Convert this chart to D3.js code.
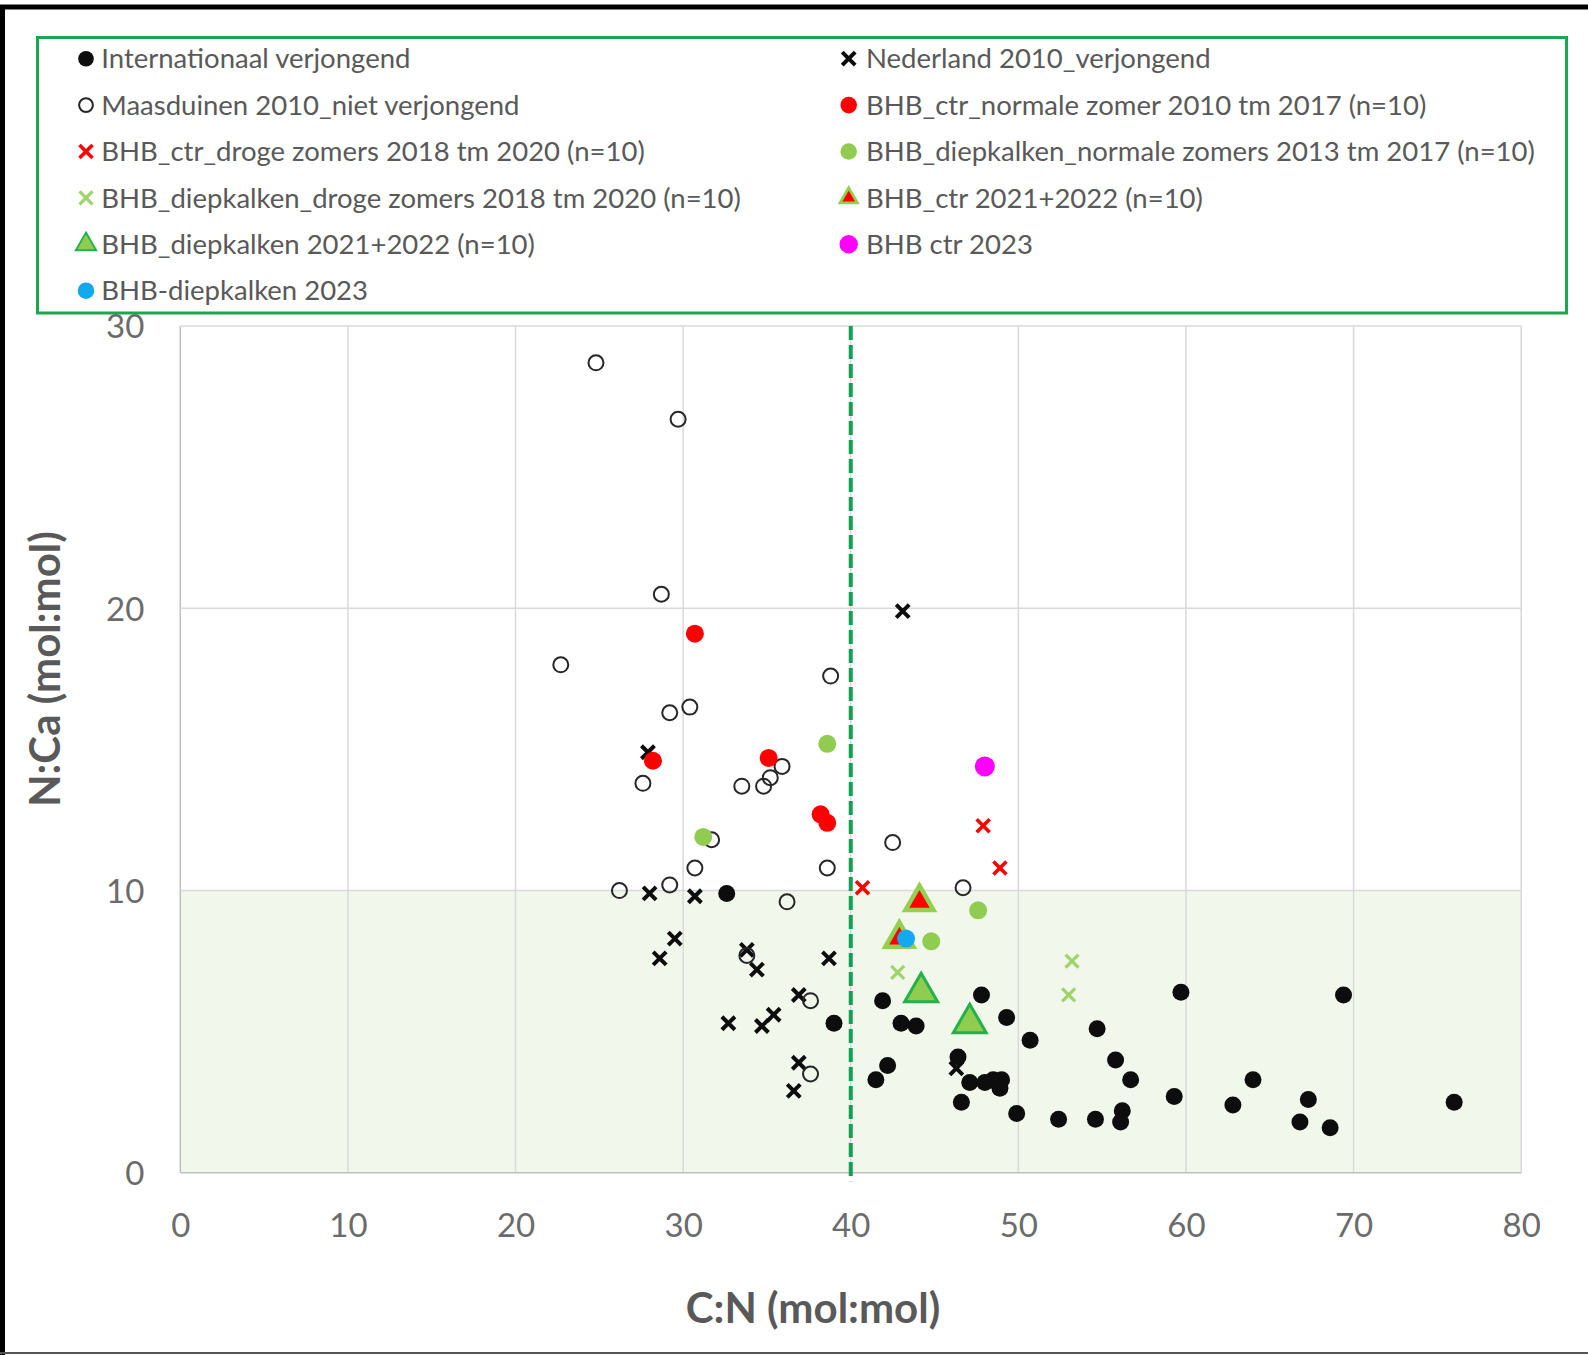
<!DOCTYPE html>
<html>
<head>
<meta charset="utf-8">
<script src="https://cdn.jsdelivr.net/npm/d3@7"></script>
<style>
html, body { margin: 0; padding: 0; background: #fff; }
svg { display: block; font-family: Lato, "Open Sans", sans-serif; }
</style>
</head>
<body>
<div id="chart"></div>
<script>
(function() {

// ---- data (C:N, N:Ca) ----
var internationaal = [[32.6,9.9],[39.0,5.3],[41.9,6.1],[47.8,6.3],[49.3,5.5],[43.0,5.3],[43.9,5.2],
    [50.7,4.7],[54.7,5.1],[55.8,4.0],[56.7,3.3],[59.7,6.4],[69.4,6.3],[59.3,2.7],[64.0,3.3],
    [62.8,2.4],[67.3,2.6],[66.8,1.8],[68.6,1.6],[49.9,2.1],[52.4,1.9],[54.6,1.9],[56.2,2.2],
    [56.1,1.8],[41.5,3.3],[42.2,3.8],[46.4,4.1],[46.6,2.5],[47.1,3.2],[48.0,3.2],[48.5,3.3],
    [49.0,3.3],[48.9,3.0],[76.0,2.5]];
var nederland = [[27.9,14.9],[43.1,19.9],[28.0,9.9],[30.7,9.8],[29.5,8.3],[28.6,7.6],[33.8,7.9],
    [34.4,7.2],[38.7,7.6],[36.9,6.3],[32.7,5.3],[34.7,5.2],[35.4,5.6],[36.9,3.9],[36.6,2.9],[46.3,3.7]];
var maasduinen = [[24.8,28.7],[29.7,26.7],[28.7,20.5],[22.7,18.0],[38.8,17.6],[29.2,16.3],[30.4,16.5],
    [27.6,13.8],[35.9,14.4],[35.2,14.0],[34.8,13.7],[33.5,13.7],[31.7,11.8],[42.5,11.7],[30.7,10.8],
    [38.6,10.8],[46.7,10.1],[26.2,10.0],[29.2,10.2],[36.2,9.6],[33.8,7.7],[37.6,6.1],[37.6,3.5]];
var ctrNormaal = [[30.7,19.1],[28.2,14.6],[35.1,14.7],[38.2,12.7],[38.6,12.4]];
var ctrDroog = [[47.9,12.3],[48.9,10.8],[40.7,10.1]];
var diepNormaal = [[38.6,15.2],[31.2,11.9],[47.6,9.3],[44.8,8.2]];
var diepDroog = [[42.8,7.1],[53.2,7.5],[53.0,6.3]];
var ctr2122 = [[44.1,9.6],[42.9,8.3]];
var diep2122 = [[44.2,6.4],[47.1,5.3]];
var ctr2023 = [[48.0,14.4]];
var diep2023 = [[43.3,8.3]];

var legendNames = [
    "Internationaal verjongend",
    "Nederland 2010_verjongend",
    "Maasduinen 2010_niet verjongend",
    "BHB_ctr_normale zomer 2010 tm 2017 (n=10)",
    "BHB_ctr_droge zomers 2018 tm 2020 (n=10)",
    "BHB_diepkalken_normale zomers 2013 tm 2017 (n=10)",
    "BHB_diepkalken_droge zomers 2018 tm 2020 (n=10)",
    "BHB_ctr 2021+2022 (n=10)",
    "BHB_diepkalken 2021+2022 (n=10)",
    "BHB ctr 2023",
    "BHB-diepkalken 2023"
];

var xTicks = [0, 10, 20, 30, 40, 50, 60, 70, 80];
var yTicks = [0, 10, 20, 30];
var shadeTop = 10;      // N:Ca limit, shaded band below it
var cnLimit = 40;       // C:N limit, dashed line

var xTitle = "C:N (mol:mol)",
    yTitle = "N:Ca (mol:mol)";

// marker styles per series, legend order
var series = [
    {data: internationaal, shape: "circle", r: 8.5, fill: "#0d0d0d"},
    {data: nederland,      shape: "cross",  s: 6.5, stroke: "#0d0d0d", sw: 4},
    {data: maasduinen,     shape: "circle", r: 7.5, fill: "none", stroke: "#262626", sw: 2},
    {data: ctrNormaal,     shape: "circle", r: 9,   fill: "#ff0000"},
    {data: ctrDroog,       shape: "cross",  s: 6.5, stroke: "#ff0000", sw: 3.6},
    {data: diepNormaal,    shape: "circle", r: 9,   fill: "#8fcc4f"},
    {data: diepDroog,      shape: "cross",  s: 6.5, stroke: "#9fd468", sw: 3.2},
    {data: ctr2122,        shape: "tri",    size: 340, fill: "#ff0000", stroke: "#92d050", sw: 4.5},
    {data: diep2122,       shape: "tri",    size: 470, fill: "#8fcc4f", stroke: "#22b24c", sw: 3},
    {data: ctr2023,        shape: "circle", r: 10,  fill: "#ff00ff"},
    {data: diep2023,       shape: "circle", r: 9,   fill: "#12a9ee"}
];
var drawOrder = [1, 2, 0, 3, 4, 5, 6, 7, 8, 9, 10];

/**
 * Set up SVG and scales.
 */
var W = 1588, H = 1355;
var svg = d3.select("#chart").append("svg")
            .attr("width", W)
            .attr("height", H);

svg.append("rect").attr("width", W).attr("height", H).attr("fill", "#fff");

var xScale = d3.scaleLinear().domain([0, 80]).range([180.3, 1521.2]);
var yScale = d3.scaleLinear().domain([0, 30]).range([1172.8, 326.1]);

// shaded band below N:Ca = 10
svg.append("rect")
   .attr("x", xScale(0))
   .attr("y", yScale(shadeTop))
   .attr("width", xScale(80) - xScale(0))
   .attr("height", yScale(0) - yScale(shadeTop))
   .attr("fill", "#f2f7ec");

// gridlines
var grid = svg.append("g").attr("class", "grid");
grid.selectAll("line.v").data(xTicks).enter().append("line")
    .attr("class", "v")
    .attr("x1", function(d) { return xScale(d); })
    .attr("x2", function(d) { return xScale(d); })
    .attr("y1", yScale(0)).attr("y2", yScale(30))
    .attr("stroke", function(d) { return d === 0 ? "#bfbfbf" : "#d9d9d9"; })
    .attr("stroke-width", 1.5);
grid.selectAll("line.h").data(yTicks).enter().append("line")
    .attr("class", "h")
    .attr("x1", xScale(0)).attr("x2", xScale(80))
    .attr("y1", function(d) { return yScale(d); })
    .attr("y2", function(d) { return yScale(d); })
    .attr("stroke", function(d) { return d === 0 ? "#bfbfbf" : "#d9d9d9"; })
    .attr("stroke-width", 1.5);

// tick labels
var xAxis = d3.axisBottom(xScale).tickValues(xTicks).tickSize(0).tickPadding(0);
var gx = svg.append("g").attr("transform", "translate(0," + yScale(0) + ")").call(xAxis);
gx.select(".domain").remove();
gx.selectAll("text")
  .attr("y", 52).attr("dy", "0.36em")
  .attr("font-size", 33).attr("fill", "#6b6b6b")
  .attr("font-family", "Lato, 'Open Sans', sans-serif");

var yAxis = d3.axisLeft(yScale).tickValues(yTicks).tickSize(0).tickPadding(0);
var gy = svg.append("g").attr("transform", "translate(" + xScale(0) + ",0)").call(yAxis);
gy.select(".domain").remove();
gy.selectAll("text")
  .attr("x", -36).attr("dy", "0.36em")
  .attr("font-size", 33).attr("fill", "#6b6b6b")
  .attr("font-family", "Lato, 'Open Sans', sans-serif");

// dashed C:N = 40 line
svg.append("line")
   .attr("x1", xScale(cnLimit)).attr("x2", xScale(cnLimit))
   .attr("y1", yScale(30)).attr("y2", yScale(-0.3))
   .attr("stroke", "#12a053")
   .attr("stroke-width", 4)
   .attr("stroke-dasharray", "14,5");

/**
 * Draw one marker of a series, optionally scaled by k.
 */
var drawMarker = function(g, st, k) {
    k = k || 1;
    if (st.shape === "circle") {
        g.append("circle").attr("r", st.r * k)
         .attr("fill", st.fill)
         .attr("stroke", st.stroke || "none")
         .attr("stroke-width", st.sw || 0);
    } else if (st.shape === "cross") {
        var s = st.s * k;
        g.append("path")
         .attr("d", "M" + (-s) + "," + (-s) + "L" + s + "," + s + "M" + (-s) + "," + s + "L" + s + "," + (-s))
         .attr("fill", "none")
         .attr("stroke", st.stroke)
         .attr("stroke-width", st.sw);
    } else if (st.shape === "tri") {
        g.append("path")
         .attr("d", d3.symbol().type(d3.symbolTriangle).size(st.size * k * k)())
         .attr("fill", st.fill)
         .attr("stroke", st.stroke)
         .attr("stroke-width", st.sw * k)
         .attr("stroke-linejoin", "miter");
    }
};

// data points
var marks = svg.append("g").attr("class", "marks");
drawOrder.forEach(function(i) {
    var st = series[i];
    marks.append("g").attr("class", "series-" + i)
         .selectAll("g").data(st.data).enter().append("g")
         .attr("transform", function(d) {
             return "translate(" + xScale(d[0]) + "," + yScale(d[1]) + ")";
         })
         .each(function() { drawMarker(d3.select(this), st); });
});

// axis titles
svg.append("text")
   .attr("x", 813).attr("y", 1308).attr("dy", "0.35em")
   .attr("text-anchor", "middle")
   .attr("font-size", 42).attr("font-weight", "bold")
   .attr("fill", "#595959")
   .text(xTitle);
svg.append("text")
   .attr("transform", "translate(45,669) rotate(-90)")
   .attr("dy", "0.35em")
   .attr("text-anchor", "middle")
   .attr("font-size", 42).attr("font-weight", "bold")
   .attr("fill", "#595959")
   .text(yTitle);

/**
 * Legend box, two columns.
 */
var legend = svg.append("g").attr("class", "legend");
legend.append("rect")
      .attr("x", 37.5).attr("y", 37.5)
      .attr("width", 1529).attr("height", 275.5)
      .attr("fill", "#fff")
      .attr("stroke", "#1aa84f")
      .attr("stroke-width", 3);

var colX = [86, 848.7], textX = [101.3, 866];
var rowY0 = 58.7, rowDY = 46.4;
legendNames.forEach(function(name, i) {
    var col = i % 2, row = Math.floor(i / 2);
    var y = rowY0 + row * rowDY;
    var st = series[i];
    var mk = legend.append("g").attr("transform", "translate(" + colX[col] + "," + y + ")");
    var k = st.shape === "tri" ? 0.62 : (st.shape === "circle" ? 0.92 : 1);
    drawMarker(mk, st, k);
    legend.append("text")
          .attr("x", textX[col]).attr("y", y).attr("dy", "0.35em")
          .attr("font-size", 27.5).attr("fill", "#595959")
          .text(name);
});

// image frame
svg.append("line").attr("x1", 0).attr("x2", W).attr("y1", 7).attr("y2", 7)
   .attr("stroke", "#000").attr("stroke-width", 5);
svg.append("line").attr("x1", 2.5).attr("x2", 2.5).attr("y1", 5).attr("y2", H)
   .attr("stroke", "#000").attr("stroke-width", 5);
svg.append("line").attr("x1", 0).attr("x2", W).attr("y1", 1353).attr("y2", 1353)
   .attr("stroke", "#555").attr("stroke-width", 2);

})();
</script>
</body>
</html>
